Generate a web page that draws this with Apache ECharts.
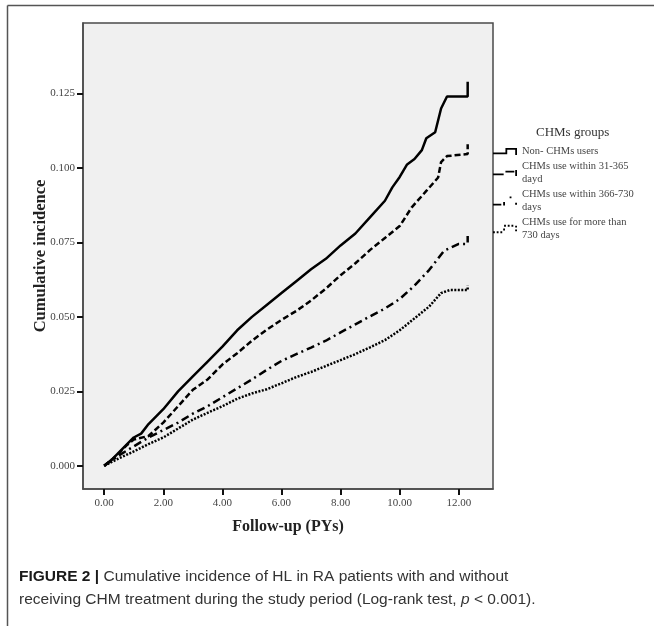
<!DOCTYPE html>
<html>
<head>
<meta charset="utf-8">
<script src="https://cdn.jsdelivr.net/npm/echarts@6/dist/echarts.min.js"></script>
<style>
  html, body { margin: 0; padding: 0; background: #fff; }
  #chart { width: 654px; height: 626px; }
</style>
</head>
<body>
<div id="chart"></div>
<script>
// ---- Data ----
const xTicks = [0, 2, 4, 6, 8, 10, 12];
const yTicks = [0, 0.025, 0.05, 0.075, 0.1, 0.125];

const groupNames = [
  'Non- CHMs users',
  'CHMs use within 31-365 dayd',
  'CHMs use within 366-730 days',
  'CHMs use for more than 730 days'
];
const groupLabels = [
  'Non- CHMs users',
  'CHMs use within 31-365\ndayd',
  'CHMs use within 366-730\ndays',
  'CHMs use for more than\n730 days'
];

// Non-CHMs users
const t1 = [0, 0.25, 0.5, 0.75, 1.0, 1.25, 1.5, 2.0, 2.5, 3.0, 3.5, 4.0, 4.5, 5.0, 5.5, 6.0, 6.5, 7.0, 7.5, 8.0, 8.5, 9.0, 9.5, 9.75, 10.0, 10.25, 10.5, 10.75, 10.9, 11.2, 11.4, 11.6, 12.3, 12.3];
const v1 = [0, 0.002, 0.0045, 0.007, 0.0095, 0.0108, 0.014, 0.019, 0.025, 0.030, 0.035, 0.040, 0.0455, 0.050, 0.054, 0.058, 0.062, 0.066, 0.0695, 0.074, 0.078, 0.0835, 0.089, 0.0935, 0.097, 0.1012, 0.103, 0.106, 0.110, 0.112, 0.120, 0.124, 0.124, 0.129];

// CHMs use within 31-365 days
const t2 = [0, 0.25, 0.5, 0.75, 1.0, 1.5, 2.0, 2.5, 3.0, 3.5, 4.0, 4.5, 5.0, 5.5, 6.0, 6.5, 7.0, 7.5, 8.0, 8.5, 9.0, 9.5, 10.0, 10.4, 10.9, 11.3, 11.4, 11.6, 12.3, 12.3];
const v2 = [0, 0.002, 0.0042, 0.0068, 0.0088, 0.0100, 0.0145, 0.020, 0.0255, 0.029, 0.034, 0.0378, 0.042, 0.0457, 0.049, 0.052, 0.0555, 0.0595, 0.064, 0.068, 0.0725, 0.0765, 0.0805, 0.0867, 0.0923, 0.0968, 0.102, 0.104, 0.1047, 0.108];

// CHMs use within 366-730 days
const t3 = [0, 0.5, 1.0, 1.5, 2.0, 2.5, 3.0, 3.5, 4.0, 4.5, 5.0, 5.5, 6.0, 6.5, 7.0, 7.5, 8.0, 8.5, 9.0, 9.5, 10.0, 10.5, 11.0, 11.5, 12.0, 12.3, 12.3];
const v3 = [0, 0.0035, 0.0065, 0.0095, 0.012, 0.0145, 0.0175, 0.020, 0.023, 0.026, 0.029, 0.0322, 0.0352, 0.0375, 0.0397, 0.042, 0.0448, 0.0475, 0.0502, 0.0528, 0.056, 0.0605, 0.0658, 0.0722, 0.0745, 0.0745, 0.0772];

// CHMs use for more than 730 days
const t4 = [0, 0.5, 1.0, 1.5, 2.0, 2.5, 3.0, 3.5, 4.0, 4.5, 5.0, 5.5, 6.0, 6.5, 7.0, 7.5, 8.0, 8.5, 9.0, 9.5, 10.0, 10.5, 11.0, 11.4, 11.7, 12.3, 12.3];
const v4 = [0, 0.0025, 0.0048, 0.0073, 0.0095, 0.0125, 0.0155, 0.0178, 0.020, 0.0225, 0.0243, 0.0257, 0.0277, 0.0298, 0.0315, 0.0335, 0.0355, 0.0375, 0.0398, 0.0422, 0.0455, 0.0495, 0.0535, 0.058, 0.059, 0.059, 0.0605];

// ---- Build chart ----
const pairs = (t, v) => t.map((x, i) => [x, v[i]]);
const seriesTimes = [t1, t2, t3, t4];
const seriesVals = [v1, v2, v3, v4];
const dashTypes = ['solid', [6, 3], [8, 4, 2, 4], [2, 1.5]];
const legendIcons = [
  'path://M0,5H16V7H0Z M14,0H16V7H14Z M14,0H27V2H14Z M25,0H27V8H25Z',
  'path://M0,4H12V6H0Z M14,1H24V3H14Z M25,0H27V7H25Z',
  'path://M0,8H9V10H0Z M11,6H13V10H11Z M18,0H20V2H18Z M24,7H26V9H24Z',
  'path://M0,8h2v2h-2Z M4,8h2v2h-2Z M8,8h2v2h-2Z M11,5h2v2h-2Z M12,1h2v2h-2Z M16,1h2v2h-2Z M20,1h2v2h-2Z M24,2h2v2h-2Z M24,6h2v2h-2Z'
];

const serif = 'Liberation Serif';
const sans = 'Liberation Sans';

const chart = echarts.init(document.getElementById('chart'), null, { renderer: 'canvas' });

chart.setOption({
  animation: false,
  backgroundColor: '#ffffff',
  title: [
    {
      left: 19,
      top: 565,
      padding: 0,
      text: '{b|FIGURE 2 |} Cumulative incidence of HL in RA patients with and without\nreceiving CHM treatment during the study period (Log-rank test, {i|p} < 0.001).',
      textStyle: {
        fontFamily: sans,
        fontSize: 15.5,
        fontWeight: 'normal',
        color: '#333',
        lineHeight: 23,
        rich: {
          b: { fontFamily: sans, fontSize: 15.5, fontWeight: 'bold', color: '#1a1a1a', lineHeight: 23 },
          i: { fontFamily: sans, fontSize: 15.5, fontStyle: 'italic', color: '#333', lineHeight: 23 }
        }
      }
    },
    {
      left: 531,
      top: 121,
      text: 'CHMs groups',
      textStyle: { fontFamily: serif, fontSize: 13, fontWeight: 'normal', color: '#333' }
    }
  ],
  legend: {
    orient: 'vertical',
    left: 493,
    top: 145,
    padding: 0,
    itemGap: 2,
    itemWidth: 24,
    itemHeight: 10,
    symbolKeepAspect: true,
    itemStyle: { borderWidth: 0 },
    data: groupNames.map((n, i) => ({ name: n, icon: legendIcons[i] })),
    formatter: name => groupLabels[groupNames.indexOf(name)],
    textStyle: { fontFamily: serif, fontSize: 10.5, color: '#444', lineHeight: 13 }
  },
  grid: {
    left: 83, top: 23, width: 410, height: 466,
    show: true,
    backgroundColor: '#f0f0f0',
    borderColor: '#4a4a4a',
    borderWidth: 1.5
  },
  xAxis: {
    type: 'value',
    min: -0.717,
    max: 13.157,
    name: 'Follow-up (PYs)',
    nameLocation: 'middle',
    nameGap: 30,
    nameMoveOverlap: false,
    nameTextStyle: { fontFamily: serif, fontSize: 16, fontWeight: 'bold', color: '#222' },
    axisLine: { show: true, onZero: false, lineStyle: { color: '#4a4a4a', width: 1.5 } },
    splitLine: { show: false },
    axisTick: { show: true, customValues: xTicks, length: 6, lineStyle: { color: '#111', width: 2 } },
    axisLabel: {
      customValues: xTicks,
      formatter: v => Number(v).toFixed(2),
      fontFamily: serif, fontSize: 11, color: '#444', margin: 9
    }
  },
  yAxis: {
    type: 'value',
    min: -0.0078,
    max: 0.1487,
    name: 'Cumulative incidence',
    nameLocation: 'middle',
    nameGap: 34,
    nameMoveOverlap: false,
    nameTextStyle: { fontFamily: serif, fontSize: 16.5, fontWeight: 'bold', color: '#222' },
    axisLine: { show: true, onZero: false, lineStyle: { color: '#4a4a4a', width: 1.5 } },
    splitLine: { show: false },
    axisTick: { show: true, customValues: yTicks, length: 6, lineStyle: { color: '#111', width: 2 } },
    axisLabel: {
      customValues: yTicks,
      formatter: v => Number(v).toFixed(3),
      fontFamily: serif, fontSize: 11, color: '#444', margin: 8
    }
  },
  series: groupNames.map((n, i) => ({
    name: n,
    type: 'line',
    data: pairs(seriesTimes[i], seriesVals[i]),
    showSymbol: false,
    symbol: 'none',
    color: '#000',
    lineStyle: { color: '#000', width: 2.5, type: dashTypes[i] },
    emphasis: { disabled: true }
  })),
  graphic: [
    { type: 'line', shape: { x1: 7.5, y1: 5.5, x2: 654, y2: 5.5 }, style: { stroke: '#555', lineWidth: 1.5 }, silent: true },
    { type: 'line', shape: { x1: 7.5, y1: 5.5, x2: 7.5, y2: 626 }, style: { stroke: '#555', lineWidth: 1.5 }, silent: true }
  ]
});
</script>
</body>
</html>
